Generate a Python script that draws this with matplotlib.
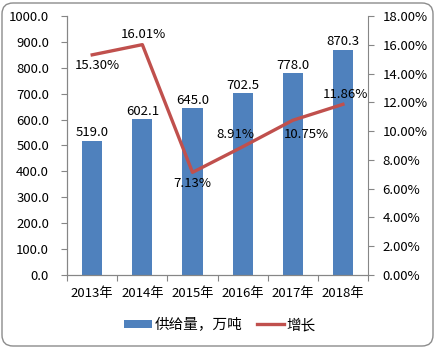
import matplotlib.pyplot as plt
from matplotlib.patches import FancyBboxPatch
from matplotlib.transforms import IdentityTransform
from matplotlib.ticker import FuncFormatter, MultipleLocator

plt.rcParams['font.family'] = ['Noto Sans CJK SC', 'DejaVu Sans']

years = ['2013年', '2014年', '2015年', '2016年', '2017年', '2018年']
supply = [519.0, 602.1, 645.0, 702.5, 778.0, 870.3]
growth = [15.30, 16.01, 7.13, 8.91, 10.75, 11.86]

# label offsets for the growth line (points)
growth_offsets = [(4, -8), (1, 7.5), (0, -8), (-5, 9), (10, -10), (2, 7)]

fig = plt.figure(figsize=(4.36, 3.48), dpi=100)
ax = fig.add_axes([0.154, 0.210, 0.690, 0.744])
ax2 = ax.twinx()

x = range(len(years))
bars = ax.bar(x, supply, width=0.4, color='#4F81BD', zorder=2)
for xi, v in zip(x, supply):
    ax.annotate(f'{v:.1f}', (xi, v), xytext=(0, 1), textcoords='offset points',
                ha='center', va='bottom', fontsize=9.5)

line, = ax2.plot(x, growth, color='#C0504D', lw=2.4, zorder=3)
for xi, g, (dx, dy) in zip(x, growth, growth_offsets):
    ax2.annotate(f'{g:.2f}%', (xi, g), xytext=(dx, dy), textcoords='offset points',
                 ha='center', va='center', fontsize=9.5)

ax.set_xlim(-0.5, len(years) - 0.5)
ax.set_ylim(0, 1000)
ax.yaxis.set_major_locator(MultipleLocator(100))
ax.yaxis.set_major_formatter(FuncFormatter(lambda v, p: f'{v:.1f}'))
ax2.set_ylim(0, 18)
ax2.yaxis.set_major_locator(MultipleLocator(2))
ax2.yaxis.set_major_formatter(FuncFormatter(lambda v, p: f'{v:.2f}%'))

# category boundaries get the tick marks, names sit in between
ax.set_xticks([i - 0.5 for i in range(len(years) + 1)])
ax.set_xticklabels([])
ax.set_xticks(list(x), minor=True)
ax.set_xticklabels(years, minor=True, fontsize=9.5)
ax.tick_params(axis='x', which='minor', length=0, pad=9)
ax.tick_params(axis='x', which='major', length=4, color='#868686')

for a in (ax, ax2):
    a.spines['top'].set_visible(False)
    for s in ('left', 'right', 'bottom'):
        a.spines[s].set_color('#868686')
    a.tick_params(axis='y', labelsize=9.5, length=4, color='#868686')
ax.spines['right'].set_visible(False)
ax.tick_params(axis='y', pad=9)
ax2.tick_params(axis='y', pad=6.5)

fig.legend([bars, line], ['供给量，万吨', '增长'], loc='center', bbox_to_anchor=(0.505, 0.066),
           ncol=2, frameon=False, fontsize=10.5, handlelength=1.9, handleheight=0.55,
           columnspacing=1.0, handletextpad=0.15)

frame = FancyBboxPatch((2, 2), 431, 343, boxstyle='round,pad=0,rounding_size=11',
                       transform=IdentityTransform(), fill=False, edgecolor='#8C8C8C', lw=1.0)
fig.patches.append(frame)

fig.savefig('out.png', dpi=100)
